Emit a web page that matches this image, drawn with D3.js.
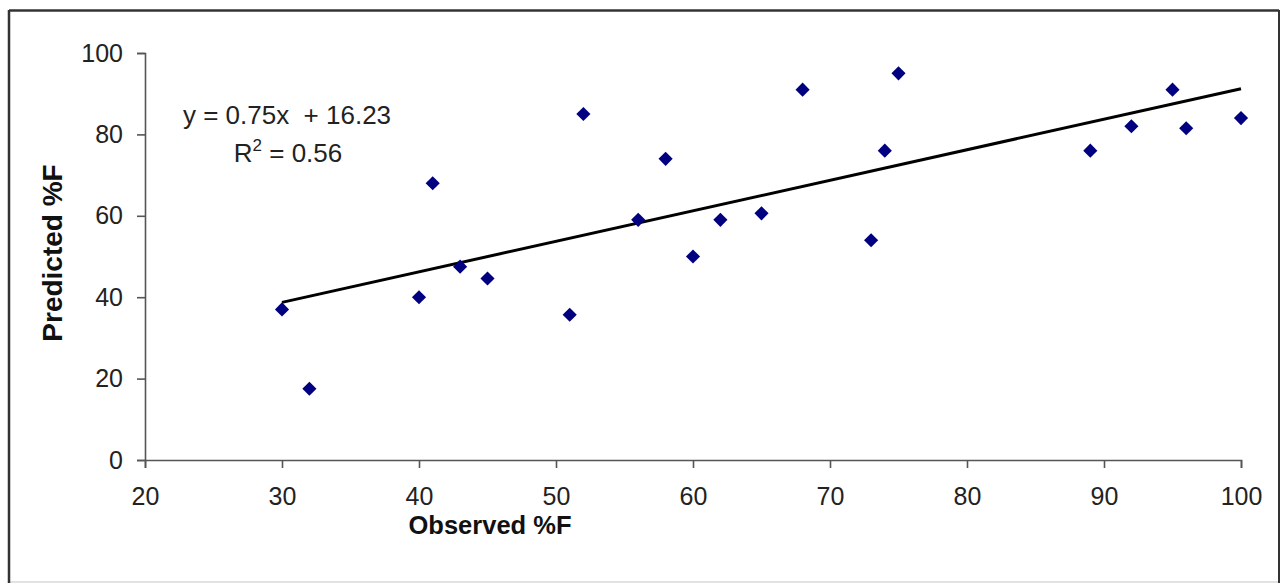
<!DOCTYPE html>
<meta charset="utf-8">
<html>
<style>
body { margin: 0; background: #fff; }
svg { display: block; }
text { font-family: Arial, "Liberation Sans", sans-serif; fill: #222; }
.axis path, .axis line { stroke: #555; stroke-width: 1.6px; }
.axis text { font-size: 25px; fill: #222; }
.title { font-weight: bold; fill: #111; }
</style>
<body>
<script src="https://cdnjs.cloudflare.com/ajax/libs/d3/7.8.5/d3.min.js"></script>
<script>
	// observed vs predicted %F
	var observed  = [30, 32, 40, 41, 43, 45, 51, 52, 56, 58, 60, 62, 65, 68, 73, 74, 75, 89, 92, 95, 96, 100];
	var predicted = [37, 17.5, 40, 68, 47.5, 44.6, 35.7, 85, 59, 74, 50, 59, 60.6, 91, 54, 76, 95, 76, 82, 91, 81.5, 84];

	var xTicks = [20, 30, 40, 50, 60, 70, 80, 90, 100];
	var yTicks = [0, 20, 40, 60, 80, 100];

	var slope = 0.75;
	var intercept = 16.23;
	var rSquared = 0.56;

	var width = 1282;
	var height = 587;

	var svg = d3.select("body")
				.append("svg")
				.attr("width", width)
				.attr("height", height);

	// outer frame
	svg.append("line").attr("x1", 9).attr("y1", 582).attr("x2", 1279).attr("y2", 582)
		.style("stroke", "#e2e2e2").style("stroke-width", 2);
	svg.append("line").attr("x1", 9).attr("y1", 10.5).attr("x2", 1279).attr("y2", 10.5)
		.style("stroke", "#333").style("stroke-width", 2.5);
	svg.append("line").attr("x1", 9).attr("y1", 10).attr("x2", 9).attr("y2", 583)
		.style("stroke", "#333").style("stroke-width", 2.5);
	svg.append("line").attr("x1", 1279).attr("y1", 10).attr("x2", 1279).attr("y2", 583)
		.style("stroke", "#333").style("stroke-width", 2);

	var x = d3.scaleLinear().domain([20, 100]).range([145, 1241]);
	var y = d3.scaleLinear().domain([0, 100]).range([460, 53]);

	svg.append("g")
		.attr("class", "axis")
		.attr("transform", "translate(0,460)")
		.call(d3.axisBottom(x).tickValues(xTicks).tickSize(8).tickPadding(19).tickFormat(d3.format("d")));

	svg.append("g")
		.attr("class", "axis")
		.attr("transform", "translate(145,0)")
		.call(d3.axisLeft(y).tickValues(yTicks).tickSize(8).tickPadding(14).tickFormat(d3.format("d")));

	// trendline over the observed range
	var xExtent = d3.extent(observed);
	svg.append("line")
		.attr("x1", x(xExtent[0])).attr("y1", y(slope * xExtent[0] + intercept))
		.attr("x2", x(xExtent[1])).attr("y2", y(slope * xExtent[1] + intercept))
		.style("stroke", "#000").style("stroke-width", 3);

	var diamond = d3.symbol().type(d3.symbolSquare).size(100);
	svg.append("g")
		.selectAll("path")
		.data(observed.map((d, i) => [d, predicted[i]]))
		.enter()
		.append("path")
		.attr("d", diamond)
		.attr("transform", d => "translate(" + x(d[0]) + "," + y(d[1]) + ") rotate(45)")
		.style("fill", "#000080");

	// regression label
	svg.append("text")
		.attr("x", 287).attr("y", 124)
		.attr("text-anchor", "middle")
		.style("font-size", "26px")
		.style("white-space", "pre")
		.text("y = " + slope.toFixed(2) + "x  + " + intercept.toFixed(2));

	var r2 = svg.append("text")
		.attr("x", 288).attr("y", 162)
		.attr("text-anchor", "middle")
		.style("font-size", "26px");
	r2.append("tspan").text("R");
	r2.append("tspan").attr("dy", -11).style("font-size", "17px").text("2");
	r2.append("tspan").attr("dy", 11).text(" = " + rSquared.toFixed(2));

	svg.append("text")
		.attr("class", "title")
		.attr("x", 490).attr("y", 534)
		.attr("text-anchor", "middle")
		.style("font-size", "25.5px")
		.text("Observed %F");

	svg.append("text")
		.attr("class", "title")
		.attr("transform", "translate(62,253) rotate(-90)")
		.attr("text-anchor", "middle")
		.style("font-size", "28px")
		.text("Predicted %F");
</script>
</body>
</html>
